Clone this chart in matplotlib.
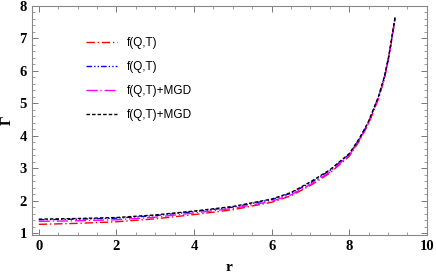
import numpy as np
import matplotlib
matplotlib.use("Agg")
import matplotlib.pyplot as plt
from matplotlib.ticker import MultipleLocator

# values
r = [0, 1, 2, 3, 4, 5, 6, 6.5, 7, 7.5, 8, 8.25, 8.4, 8.5, 8.6, 8.75, 8.9, 9, 9.05, 9.1, 9.18]
gamma_red = [1.27, 1.30, 1.35, 1.44, 1.57, 1.72, 1.95, 2.15, 2.47, 2.85, 3.37, 3.82, 4.15, 4.38, 4.68, 5.13, 5.73, 6.28, 6.62, 7.0, 7.6]
gamma_blue = [1.41, 1.43, 1.46, 1.54, 1.66, 1.80, 2.03, 2.23, 2.55, 2.93, 3.43, 3.88, 4.2, 4.43, 4.73, 5.18, 5.78, 6.33, 6.66, 7.03, 7.63]
gamma_mag = [1.36, 1.38, 1.41, 1.49, 1.62, 1.76, 1.98, 2.18, 2.50, 2.88, 3.40, 3.85, 4.17, 4.40, 4.7, 5.15, 5.75, 6.3, 6.64, 7.01, 7.62]
gamma_black = [1.43, 1.45, 1.48, 1.56, 1.68, 1.82, 2.05, 2.25, 2.58, 2.95, 3.45, 3.90, 4.22, 4.45, 4.75, 5.20, 5.8, 6.35, 6.68, 7.05, 7.65]
labels = ["f(Q,T)", "f(Q,T)", "f(Q,T)+MGD", "f(Q,T)+MGD"]

fig = plt.figure(figsize=(4.36, 2.73), dpi=100)
ax = fig.add_axes([0.073, 0.139, 0.906, 0.839])

ax.plot(r, gamma_red, color="red", lw=1.0, ls=(0, (6, 2, 1, 2)), label=labels[0])
ax.plot(r, gamma_blue, color="blue", lw=1.0, ls=(0, (4, 1.5, 1, 1.5, 1, 1.5)), label=labels[1])
ax.plot(r, gamma_mag, color="magenta", lw=1.0, ls=(0, (8, 2, 1, 2)), label=labels[2])
ax.plot(r, gamma_black, color="black", lw=1.0, ls=(0, (2.5, 1.5)), label=labels[3])

ax.set_xlim(-0.18, 10.0)
ax.set_ylim(0.94, 8.0)
ax.xaxis.set_major_locator(MultipleLocator(2))
ax.xaxis.set_minor_locator(MultipleLocator(0.5))
ax.yaxis.set_major_locator(MultipleLocator(1))
ax.yaxis.set_minor_locator(MultipleLocator(0.2))
ax.tick_params(which="both", direction="in", top=True, right=True, color="#777777")
ax.tick_params(which="major", length=4, width=0.7)
ax.tick_params(which="minor", length=2, width=0.5)
for s in ax.spines.values():
    s.set_color("#888888")
    s.set_linewidth(0.8)
for lab in ax.get_xticklabels() + ax.get_yticklabels():
    lab.set_fontfamily("Liberation Serif")
    lab.set_fontweight("bold")
    lab.set_fontsize(10.5)

ax.set_xlabel("r", fontfamily="Liberation Serif", fontweight="bold", fontsize=11, labelpad=6)
ax.set_ylabel("Γ", fontfamily="Liberation Serif", fontweight="bold", fontsize=11, labelpad=4)

ax.legend(loc="upper left", bbox_to_anchor=(0.11, 0.91), frameon=False,
          prop={"family": "Liberation Sans", "size": 8.5}, handlelength=2.6,
          labelspacing=1.0, handletextpad=0.9)

fig.savefig("out.png", dpi=100)
